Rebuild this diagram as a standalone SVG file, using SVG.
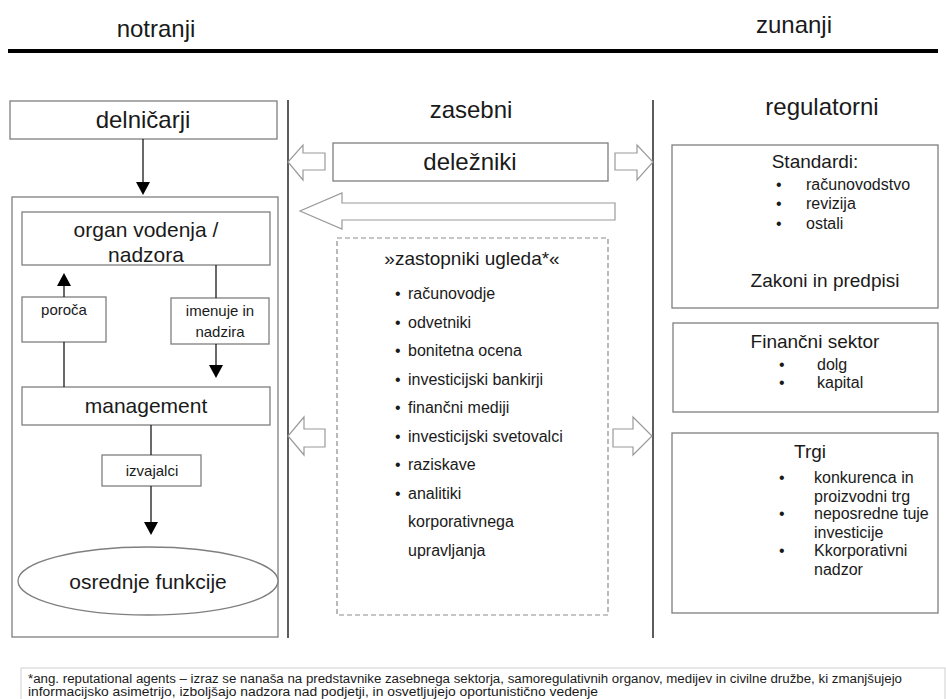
<svg xmlns="http://www.w3.org/2000/svg" width="946" height="699" viewBox="0 0 946 699">
<style>
text{font-family:"Liberation Sans",Arial,sans-serif;fill:#1a1a1a}
.box{fill:#fff;stroke:#7f7f7f;stroke-width:1.3}
.dash{fill:#fff;stroke:#8c8c8c;stroke-width:1.2;stroke-dasharray:5 3}
.ln{stroke:#1a1a1a;stroke-width:1.3;fill:none}
.sep{stroke:#262626;stroke-width:1.5}
.head{fill:#000}
.hollow{fill:#fff;stroke:#9a9a9a;stroke-width:1.2}
.h1{font-size:24px;text-anchor:middle}
.h2{font-size:21px;text-anchor:middle}
.h3{font-size:19px;text-anchor:middle}
.s{font-size:16px}
.sm{font-size:15px;text-anchor:middle}
.fn{font-size:12px}
</style>

<!-- header -->
<text class="h1" x="156" y="37">notranji</text>
<text class="h1" x="794" y="33">zunanji</text>
<line x1="8" y1="51" x2="938" y2="51" stroke="#000" stroke-width="4"/>

<!-- column separators -->
<line class="sep" x1="288" y1="100" x2="288" y2="638"/>
<line class="sep" x1="653" y1="100" x2="653" y2="638"/>

<!-- internal -->
<g id="podjetje">
  <rect class="box" x="12" y="197" width="266" height="440"/>
</g>
<g id="delnicarji">
  <rect class="box" x="10" y="101" width="267" height="38"/>
  <text class="h1" x="143" y="128">delničarji</text>
</g>
<g id="organ">
  <rect class="box" x="22" y="212" width="248" height="53"/>
  <text class="h2" x="146" y="237">organ  vodenja /</text>
  <text class="h2" x="146" y="262">nadzora</text>
</g>
<g id="poroca">
  <rect class="box" x="22" y="297" width="84" height="45"/>
  <text class="sm" x="64" y="315">poroča</text>
</g>
<g id="imenuje">
  <rect class="box" x="171" y="298" width="98" height="46"/>
  <text class="sm" x="220" y="316">imenuje in</text>
  <text class="sm" x="220" y="337">nadzira</text>
</g>
<g id="management">
  <rect class="box" x="22" y="387" width="248" height="38"/>
  <text class="h2" x="146" y="413">management</text>
</g>
<g id="izvajalci">
  <rect class="box" x="102" y="455" width="99" height="31"/>
  <text class="sm" x="152" y="476">izvajalci</text>
</g>
<g id="osrednje">
  <ellipse class="box" cx="148" cy="581" rx="130" ry="34"/>
  <text class="h2" x="148" y="589">osrednje  funkcije</text>
</g>

<!-- private -->
<text class="h1" x="471" y="118">zasebni</text>
<g id="delezniki">
  <rect class="box" x="333" y="143" width="275" height="38"/>
  <text class="h1" x="470" y="170">deležniki</text>
</g>
<g id="zastopniki">
  <rect class="dash" x="337" y="238" width="271" height="377"/>
  <text class="h3" x="472" y="265">»zastopniki  ugleda*«</text>
  <g class="s">
    <text x="395" y="299">•</text><text x="408" y="299">računovodje</text>
    <text x="395" y="327.5">•</text><text x="408" y="327.5">odvetniki</text>
    <text x="395" y="356">•</text><text x="408" y="356">bonitetna ocena</text>
    <text x="395" y="384.5">•</text><text x="408" y="384.5">investicijski bankirji</text>
    <text x="395" y="413">•</text><text x="408" y="413">finančni mediji</text>
    <text x="395" y="441.5">•</text><text x="408" y="441.5">investicijski svetovalci</text>
    <text x="395" y="470">•</text><text x="408" y="470">raziskave</text>
    <text x="395" y="498.5">•</text><text x="408" y="498.5">analitiki</text>
    <text x="408" y="527">korporativnega</text>
    <text x="408" y="555.5">upravljanja</text>
  </g>
</g>

<!-- regulatory -->
<text class="h1" x="822" y="115">regulatorni</text>
<g id="standardi">
  <rect class="box" x="672" y="145" width="266" height="163"/>
  <text class="h3" x="815" y="168">Standardi:</text>
  <g class="s">
    <text x="776" y="190">•</text><text x="806" y="190">računovodstvo</text>
    <text x="776" y="209">•</text><text x="806" y="209">revizija</text>
    <text x="776" y="229">•</text><text x="806" y="229">ostali</text>
  </g>
  <text class="h3" x="825" y="287">Zakoni  in predpisi</text>
</g>
<g id="financni">
  <rect class="box" x="673" y="323" width="265" height="89"/>
  <text class="h3" x="815" y="348">Finančni  sektor</text>
  <g class="s">
    <text x="779" y="370">•</text><text x="817" y="370">dolg</text>
    <text x="779" y="388">•</text><text x="817" y="388">kapital</text>
  </g>
</g>
<g id="trgi">
  <rect class="box" x="672" y="433" width="266" height="180"/>
  <text class="h3" x="810" y="458">Trgi</text>
  <g class="s">
    <text x="779" y="483">•</text><text x="814" y="483">konkurenca in</text>
    <text x="814" y="502">proizvodni trg</text>
    <text x="779" y="519">•</text><text x="814" y="519">neposredne tuje</text>
    <text x="814" y="538">investicije</text>
    <text x="779" y="556">•</text><text x="814" y="556">Kkorporativni</text>
    <text x="814" y="575">nadzor</text>
  </g>
</g>

<!-- connectors -->
<g id="connectors">
  <line class="ln" x1="143" y1="139" x2="143" y2="183"/>
  <polygon class="head" points="136,182 150,182 143,195"/>
  <line class="ln" x1="64" y1="285" x2="64" y2="297"/>
  <polygon class="head" points="57,286 71,286 64,273"/>
  <line class="ln" x1="64" y1="342" x2="64" y2="387"/>
  <line class="ln" x1="216" y1="265" x2="216" y2="298"/>
  <line class="ln" x1="216" y1="344" x2="216" y2="366"/>
  <polygon class="head" points="209,365 223,365 216,378"/>
  <line class="ln" x1="151" y1="425" x2="151" y2="455"/>
  <line class="ln" x1="151" y1="486" x2="151" y2="523"/>
  <polygon class="head" points="144,522 158,522 151,535"/>
  <!-- hollow arrows -->
  <polygon class="hollow" points="325,153 303,153 303,145 288,162 303,180 303,170 325,170"/>
  <polygon class="hollow" points="615,153 637,153 637,145 653,162 637,180 637,170 615,170"/>
  <polygon class="hollow" points="615,203 342,203 342,193 300,211 342,229 342,220 615,220"/>
  <polygon class="hollow" points="325,429 304,429 304,417 288,436 304,455 304,447 325,447"/>
  <polygon class="hollow" points="613,429 633,429 633,417 652,436 633,455 633,447 613,447"/>
</g>

<!-- footnote -->
<g id="footnote">
  <rect x="21" y="668" width="924" height="40" fill="#fff" stroke="#d0d0d0" stroke-width="1"/>
  <text class="fn" x="28" y="683" textLength="874" lengthAdjust="spacingAndGlyphs">*ang. reputational agents – izraz se nanaša na predstavnike zasebnega sektorja, samoregulativnih organov, medijev in civilne družbe, ki zmanjšujejo</text>
  <text class="fn" x="28" y="696" textLength="570" lengthAdjust="spacingAndGlyphs">informacijsko asimetrijo, izboljšajo nadzora nad podjetji, in osvetljujejo oportunistično vedenje</text>
</g>
</svg>
